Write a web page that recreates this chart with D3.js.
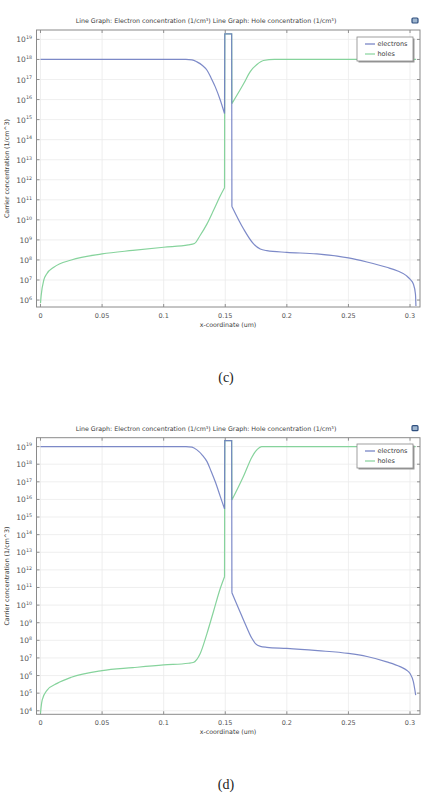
<!DOCTYPE html>
<html>
<head>
<meta charset="utf-8">
<script src="https://cdn.jsdelivr.net/npm/d3@7"></script>
<style>
  body { margin: 0; background: #fff; }
  svg { display: block; }
  text { font-family: "DejaVu Sans", sans-serif; fill: #3c3c3c; }
</style>
</head>
<body>
<div id="chart"></div>
<script>
// x positions in um, concentrations in 1/cm^3
const xTicks = [0, 0.05, 0.1, 0.15, 0.2, 0.25, 0.3];
const xTickLabels = ["0", "0.05", "0.1", "0.15", "0.2", "0.25", "0.3"];
const seriesNames = ["electrons", "holes"];
const titleText = "Line Graph: Electron concentration (1/cm³)  Line Graph: Hole concentration (1/cm³)";

const electronsC = [
    [0, 1e18], [0.05, 1e18], [0.1, 1e18], [0.118, 1e18], [0.123, 9.6e17], [0.127, 7.6e17],
    [0.1315, 5e17], [0.1352, 2.9e17], [0.1385, 1.2e17], [0.1419, 4.3e16], [0.146, 9.3e15],
    [0.1494, 2e15], [0.1496, 1.9e19], [0.1552, 1.9e19], [0.1554, 4.7e10], [0.1649, 3.5e9],
    [0.173, 6.3e8], [0.1784, 3.5e8], [0.1838, 2.9e8], [0.2, 2.4e8], [0.2243, 2e8],
    [0.25, 1.26e8], [0.265, 7.9e7], [0.2811, 4.3e7], [0.29, 2.8e7], [0.2973, 1.6e7],
    [0.3, 1.1e7], [0.3027, 6.3e6], [0.3044, 2e6], [0.3048, 5e5]
];
const holesC = [
    [0, 7e5], [0.0005, 1.6e6], [0.0027, 1e7], [0.005, 2e7], [0.0108, 4.3e7], [0.025, 1e8],
    [0.05, 2e8], [0.075, 3e8], [0.1, 4.3e8], [0.12, 5.6e8], [0.125, 6.6e8], [0.1297, 1.7e9],
    [0.1352, 6.3e9], [0.1405, 3e10], [0.146, 1.6e11], [0.1494, 4e11], [0.1496, 1.9e19],
    [0.1552, 1.9e19], [0.1554, 6.3e15], [0.165, 6.3e16], [0.1703, 2.5e17], [0.1757, 5.6e17],
    [0.181, 8.9e17], [0.19, 1e18], [0.25, 1e18], [0.3048, 1e18]
];
const electronsD = [
    [0, 1e19], [0.05, 1e19], [0.1, 1e19], [0.118, 1e19], [0.123, 9.3e18], [0.127, 6.5e18],
    [0.1315, 3.2e18], [0.1352, 1.4e18], [0.1385, 4e17], [0.1419, 1e17], [0.146, 1.45e16],
    [0.1494, 2.9e15], [0.1496, 2.2e19], [0.1552, 2.2e19], [0.1554, 5e10], [0.1649, 1.4e9],
    [0.1716, 1.3e8], [0.1745, 6.5e7], [0.1785, 4.5e7], [0.1838, 4e7], [0.2, 3.5e7],
    [0.225, 2.6e7], [0.25, 1.8e7], [0.265, 1.2e7], [0.2811, 6e6], [0.2919, 3.2e6],
    [0.2973, 2e6], [0.3, 1.3e6], [0.3027, 4.5e5], [0.3046, 7.8e4]
];
const holesD = [
    [0, 7e3], [0.0005, 1.6e4], [0.0014, 4.1e4], [0.0054, 1.5e5], [0.0135, 3.6e5], [0.025, 8e5],
    [0.05, 1.9e6], [0.075, 2.8e6], [0.1, 4e6], [0.12, 5e6], [0.124, 5.5e6], [0.1297, 1.8e7],
    [0.1352, 2.5e8], [0.1405, 4.5e9], [0.146, 9e10], [0.1494, 4.1e11], [0.1496, 2.2e19],
    [0.1552, 2.2e19], [0.1554, 9.3e15], [0.165, 2.2e17], [0.1716, 2.5e18], [0.176, 7e18],
    [0.1795, 1e19], [0.25, 1e19], [0.3046, 1e19]
];
const yExpC = d3.range(6, 20);
const yExpD = d3.range(4, 20);

const colors = {electrons: "#6f7dc2", holes: "#86d39c"};

const svg = d3.select("#chart").append("svg")
    .attr("width", 431)
    .attr("height", 805);

// the step at the junction is drawn straight, the rest smoothed
function pathFor(data, x, y) {
    const smooth = d3.line().x(d => x(d[0])).y(d => y(d[1])).curve(d3.curveMonotoneX);
    const straight = d3.line().x(d => x(d[0])).y(d => y(d[1]));
    const a = data.findIndex(d => d[0] >= 0.1494);
    const b = data.findIndex(d => d[0] >= 0.1554);
    return smooth(data.slice(0, a + 1)) + straight(data.slice(a, b + 1)) + smooth(data.slice(b));
}

function drawPanel(p) {
    const x = d3.scaleLinear().domain([-0.00324, 0.3081]).range([36.5, 420]);
    const y = d3.scaleLog().domain(p.yDomain).range([p.bottom, p.top]);
    const g = svg.append("g");

    // title + icon
    g.append("text")
        .attr("x", 206).attr("y", p.top - 7)
        .attr("text-anchor", "middle")
        .style("font-size", "6.3px")
        .text(titleText);
    g.append("rect")
        .attr("x", 412).attr("y", p.top - 12).attr("width", 6).attr("height", 5)
        .attr("rx", 1)
        .style("fill", "#9fb6cf").style("stroke", "#2f4f7f").style("stroke-width", 1.2);

    // grid
    g.selectAll(".vgrid").data(xTicks).enter().append("line")
        .attr("x1", d => x(d)).attr("x2", d => x(d))
        .attr("y1", p.top).attr("y2", p.bottom)
        .style("stroke", "#ebebeb").style("stroke-width", 0.8);
    g.selectAll(".hgrid").data(p.yExp).enter().append("line")
        .attr("x1", x.range()[0]).attr("x2", x.range()[1])
        .attr("y1", d => y(Math.pow(10, d))).attr("y2", d => y(Math.pow(10, d)))
        .style("stroke", "#ebebeb").style("stroke-width", 0.8);

    // ticks (inward, all four sides)
    g.selectAll(".tb").data(xTicks).enter().append("line")
        .attr("x1", d => x(d)).attr("x2", d => x(d))
        .attr("y1", p.bottom).attr("y2", p.bottom - 3)
        .style("stroke", "#777").style("stroke-width", 0.8);
    g.selectAll(".tt").data(xTicks).enter().append("line")
        .attr("x1", d => x(d)).attr("x2", d => x(d))
        .attr("y1", p.top).attr("y2", p.top + 3)
        .style("stroke", "#777").style("stroke-width", 0.8);
    g.selectAll(".tl").data(p.yExp).enter().append("line")
        .attr("x1", x.range()[0]).attr("x2", x.range()[0] + 3)
        .attr("y1", d => y(Math.pow(10, d))).attr("y2", d => y(Math.pow(10, d)))
        .style("stroke", "#777").style("stroke-width", 0.8);
    g.selectAll(".tr").data(p.yExp).enter().append("line")
        .attr("x1", x.range()[1]).attr("x2", x.range()[1] - 3)
        .attr("y1", d => y(Math.pow(10, d))).attr("y2", d => y(Math.pow(10, d)))
        .style("stroke", "#777").style("stroke-width", 0.8);

    // lines
    g.append("path")
        .attr("d", pathFor(p.holes, x, y))
        .style("fill", "none").style("stroke", colors.holes).style("stroke-width", 1.2);
    g.append("path")
        .attr("d", pathFor(p.electrons, x, y))
        .style("fill", "none").style("stroke", colors.electrons).style("stroke-width", 1.2)
        .style("stroke-opacity", 0.9);

    // frame
    g.append("rect")
        .attr("x", x.range()[0]).attr("y", p.top)
        .attr("width", x.range()[1] - x.range()[0]).attr("height", p.bottom - p.top)
        .style("fill", "none").style("stroke", "#8a8a8a").style("stroke-width", 1);

    // x tick labels
    g.selectAll(".xl").data(xTicks).enter().append("text")
        .attr("x", d => x(d)).attr("y", p.bottom + 11)
        .attr("text-anchor", "middle")
        .style("font-size", "6.5px").style("fill", "#555")
        .text((d, i) => xTickLabels[i]);
    g.append("text")
        .attr("x", 228).attr("y", p.bottom + 19.5)
        .attr("text-anchor", "middle")
        .style("font-size", "6.3px")
        .text("x-coordinate (um)");

    // y tick labels 10^n
    const yl = g.selectAll(".yl").data(p.yExp).enter().append("text")
        .attr("x", 32).attr("y", d => y(Math.pow(10, d)) + 3)
        .attr("text-anchor", "end")
        .style("font-size", "7.5px").style("fill", "#555");
    yl.append("tspan").text("10");
    yl.append("tspan").attr("dy", -3.2).style("font-size", "4.8px").text(d => d);

    g.append("text")
        .attr("transform", `translate(9,${(p.top + p.bottom) / 2}) rotate(-90)`)
        .attr("text-anchor", "middle")
        .style("font-size", "6.3px")
        .text("Carrier concentration (1/cm^3)");

    // legend
    const lg = g.append("g").attr("transform", `translate(357,${p.legendTop})`);
    lg.append("rect").attr("x", 1.5).attr("y", 1.5).attr("width", 56).attr("height", 24)
        .style("fill", "#9a9a9a");
    lg.append("rect").attr("width", 56).attr("height", 24)
        .style("fill", "#fff").style("stroke", "#888").style("stroke-width", 0.8);
    seriesNames.forEach((name, i) => {
        const yy = 7 + i * 10;
        lg.append("line").attr("x1", 8).attr("x2", 18).attr("y1", yy).attr("y2", yy)
            .style("stroke", colors[name]).style("stroke-width", 1.2);
        lg.append("text").attr("x", 20.5).attr("y", yy + 2.3)
            .style("font-size", "6.5px")
            .text(name);
    });

    // caption
    svg.append("text")
        .attr("x", 226).attr("y", p.caption)
        .attr("text-anchor", "middle")
        .style("font-family", "'Liberation Serif', 'Times New Roman', serif")
        .style("font-size", "14px").style("fill", "#222")
        .text(p.label);
}

drawPanel({
    top: 30, bottom: 307,
    yDomain: [4.5e5, 2.95e19], yExp: yExpC,
    electrons: electronsC, holes: holesC,
    legendTop: 37, caption: 381.5, label: "(c)"
});
drawPanel({
    top: 437.7, bottom: 714.3,
    yDomain: [6.3e3, 3.2e19], yExp: yExpD,
    electrons: electronsD, holes: holesD,
    legendTop: 444, caption: 789, label: "(d)"
});
</script>
</body>
</html>
